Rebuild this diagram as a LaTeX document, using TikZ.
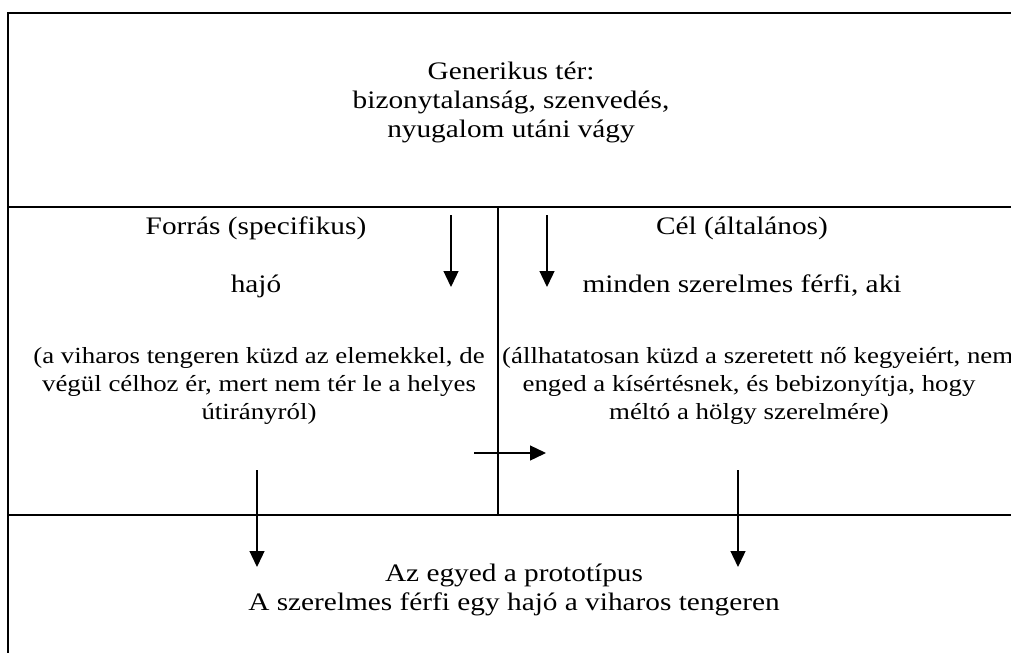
\documentclass[tikz,border=0pt]{standalone}
\usepackage{fontspec}
\setmainfont{Liberation Serif}
\usetikzlibrary{arrows.meta,positioning}

\begin{document}
\begin{tikzpicture}[x=1pt,y=-1pt,node distance=29pt,on grid,
    line/.style={font=\fontsize{25.2}{29}\selectfont,xscale=1.163,inner sep=0pt,
                 text height=18pt,text depth=6pt},
    para/.style={line,font=\fontsize{23.1}{28}\selectfont},
    frame/.style={line width=1.8pt},
    >={Triangle[width=15pt,length=16pt]}]
\useasboundingbox (0,0) rectangle (1011,653);
\clip (0,0) rectangle (1011,653);
% table lines
\draw[frame] (1011,13) -- (8,13) -- (8,653);
\draw[frame] (8,207) -- (1011,207);
\draw[frame] (8,515) -- (1011,515);
\draw[frame] (498,207) -- (498,515);
% generic space
\node[line] (gen1) at (511,73) {Generikus tér:};
\node[line] (gen2) [below=of gen1] {bizonytalanság, szenvedés,};
\node[line] (gen3) [below=of gen2] {nyugalom utáni vágy};
% source
\node[line] (src) at (256,228) {Forrás (specifikus)};
\node[line] (ship) at (256,286) {hajó};
\node[para] (src1) at (259,357) {(a viharos tengeren küzd az elemekkel, de};
\node[para] (src2) [below=28pt of src1] {végül célhoz ér, mert nem tér le a helyes};
\node[para] (src3) [below=28pt of src2] {útirányról)};
% target
\node[line] (tgt) at (742,228) {Cél (általános)};
\node[line] (man) at (742,286) {minden szerelmes férfi, aki};
\node[para,anchor=west] (tgt1) at (502,357) {(állhatatosan küzd a szeretett nő kegyeiért, nem};
\node[para] (tgt2) at (749,385) {enged a kísértésnek, és bebizonyítja, hogy};
\node[para] (tgt3) [below=28pt of tgt2] {méltó a hölgy szerelmére)};
% blend
\node[line] (bl1) at (514,575) {Az egyed a prototípus};
\node[line] (bl2) [below=of bl1] {A szerelmes férfi egy hajó a viharos tengeren};
% arrow ends
\coordinate (a1) at (451,215); \coordinate (b1) at (451,287);
\coordinate (a2) at (547,215); \coordinate (b2) at (547,287);
\coordinate (a3) at (474,453); \coordinate (b3) at (546,453);
\coordinate (a4) at (257,470); \coordinate (b4) at (257,567);
\coordinate (a5) at (738,470); \coordinate (b5) at (738,567);
\path[->,line width=1.3pt]
    (a1) edge (b1)
    (a2) edge (b2)
    (a3) edge (b3)
    (a4) edge (b4)
    (a5) edge (b5);
\end{tikzpicture}
\end{document}
